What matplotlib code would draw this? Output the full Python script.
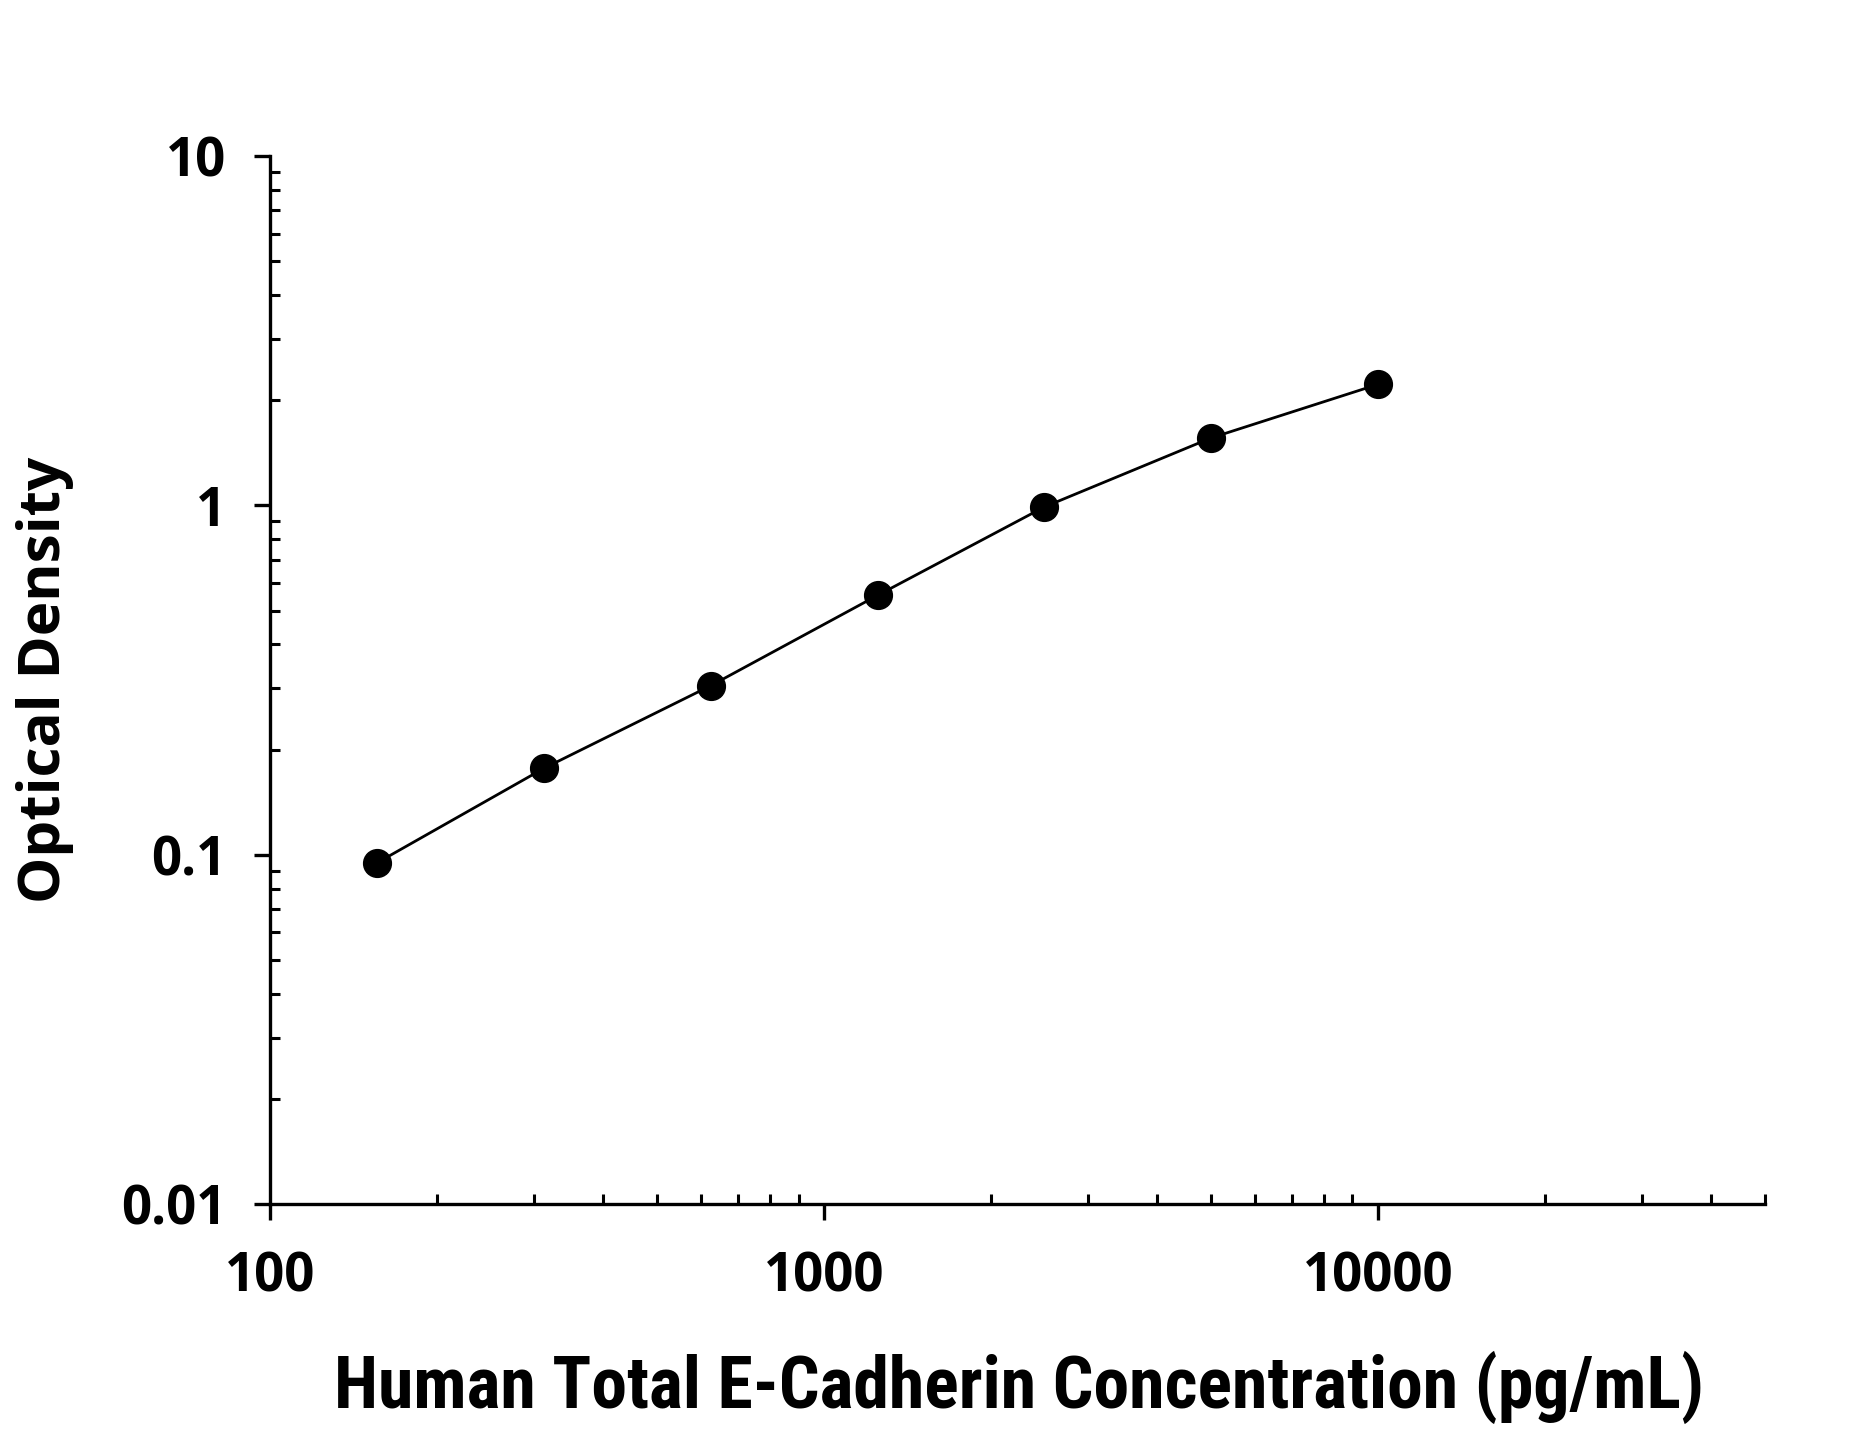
import matplotlib
matplotlib.use("Agg")
import matplotlib.pyplot as plt
from matplotlib import font_manager
from matplotlib.ticker import LogLocator, FixedFormatter, FixedLocator, NullFormatter

conc = [156.25, 312.5, 625, 1250, 2500, 5000, 10000]
od = [0.095, 0.177, 0.305, 0.553, 0.99, 1.56, 2.22]
x_ticks = [100, 1000, 10000]
x_ticklabels = ["100", "1000", "10000"]
y_ticks = [0.01, 0.1, 1, 10]
y_ticklabels = ["0.01", "0.1", "1", "10"]

# pick a condensed bold face for the x label if one is installed
fonts = font_manager.fontManager.ttflist
names = {f.name for f in fonts}
narrow = None
for cand in ["Liberation Sans Narrow", "Roboto Condensed", "Open Sans Condensed",
             "DejaVu Sans Condensed", "Noto Sans Condensed"]:
    if cand in names:
        narrow = dict(family=cand, stretch="normal")
        break
if narrow is None:
    cond = [f for f in fonts if "condensed" in str(f.stretch).lower() or "narrow" in f.name.lower()]
    if cond:
        narrow = dict(family=cond[0].name, stretch=cond[0].stretch)
    else:
        narrow = dict(family="Open Sans", stretch="normal")

W, H = 1852, 1433
fig = plt.figure(figsize=(W / 100, H / 100), dpi=100)
ax = fig.add_axes([270 / W, 1 - 1204.3 / H, (1765 - 270) / W, (1204.3 - 156) / H])

ax.plot(conc, od, color="black", lw=2.0, zorder=2)
ax.plot(conc, od, "o", color="black", ms=20, zorder=3)

ax.set_xscale("log")
ax.set_yscale("log")
ax.set_xlim(100, 50000)
ax.set_ylim(0.01, 10)

for s in ["top", "right"]:
    ax.spines[s].set_visible(False)
for s in ["left", "bottom"]:
    ax.spines[s].set_linewidth(2.4)

tick_font = dict(family="Open Sans", weight="bold", size=38)
ax.xaxis.set_major_locator(FixedLocator(x_ticks))
ax.xaxis.set_major_formatter(FixedFormatter(x_ticklabels))
ax.yaxis.set_major_locator(FixedLocator(y_ticks))
ax.yaxis.set_major_formatter(FixedFormatter(y_ticklabels))
ax.xaxis.set_minor_locator(LogLocator(base=10, subs=range(2, 10)))
ax.yaxis.set_minor_locator(LogLocator(base=10, subs=range(2, 10)))
ax.xaxis.set_minor_formatter(NullFormatter())
ax.yaxis.set_minor_formatter(NullFormatter())

ax.tick_params(which="major", direction="out", length=11.5, width=2.4, pad=22)
ax.tick_params(axis="y", which="major", pad=20)
ax.tick_params(which="minor", direction="in", length=7.5, width=2.2)
for lab in ax.get_xticklabels() + ax.get_yticklabels():
    lab.set_fontproperties(tick_font)

xl = ax.text(0.501, -0.175, "Human Total E-Cadherin Concentration (pg/mL)",
             transform=ax.transAxes, ha="center", va="center",
             family=narrow["family"], stretch=narrow["stretch"], weight="bold", fontsize=48)
# fit the label to the width it has in the original
r = fig.canvas.get_renderer()
w = xl.get_window_extent(r).width
xl.set_fontsize(min(48 * 1370 / w, 60))

ax.text(-0.1505, 0.5, "Optical Density", transform=ax.transAxes, rotation=90,
        ha="center", va="center", family="Open Sans", weight="bold", fontsize=42)

fig.savefig("out.png", dpi=100)
